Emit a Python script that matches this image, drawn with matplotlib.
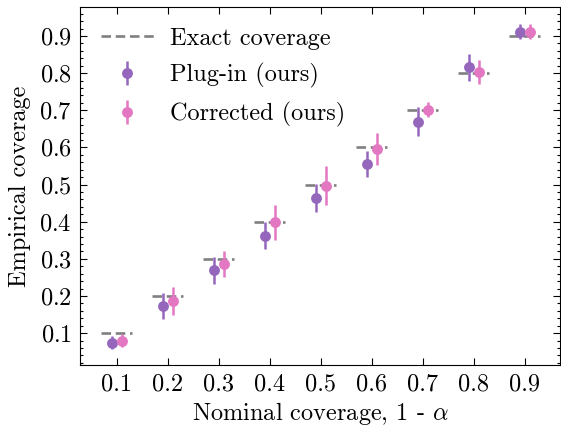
import matplotlib
matplotlib.use("Agg")
import matplotlib.pyplot as plt
import numpy as np
from matplotlib.ticker import MultipleLocator

plt.rcParams['font.family'] = 'serif'
plt.rcParams['font.serif'] = ['cmr10', 'DejaVu Serif']
plt.rcParams['mathtext.fontset'] = 'cm'
plt.rcParams['axes.formatter.use_mathtext'] = True
plt.rcParams['axes.unicode_minus'] = False

nominal = [0.1, 0.2, 0.3, 0.4, 0.5, 0.6, 0.7, 0.8, 0.9]
tick_labels = ["0.1", "0.2", "0.3", "0.4", "0.5", "0.6", "0.7", "0.8", "0.9"]
plugin_mean = [0.074, 0.174, 0.269, 0.362, 0.464, 0.556, 0.669, 0.816, 0.911]
plugin_err = [0.017, 0.035, 0.036, 0.036, 0.038, 0.035, 0.039, 0.036, 0.020]
corrected_mean = [0.080, 0.186, 0.285, 0.399, 0.497, 0.596, 0.701, 0.803, 0.911]
corrected_err = [0.018, 0.038, 0.035, 0.047, 0.053, 0.042, 0.020, 0.033, 0.020]

FS = 17.5

fig = plt.figure(figsize=(5.61, 4.28), dpi=100)
ax = fig.add_axes([0.1426, 0.147, 0.8554, 0.8366])

x = np.arange(len(nominal))
for i, v in enumerate(nominal):
    ax.plot([x[i] - 0.3, x[i] + 0.3], [v, v], ls='--', color='#808080', lw=1.9,
            dashes=(3.6, 1.8), label='Exact coverage' if i == 0 else None, zorder=1)

ax.errorbar(x - 0.1, plugin_mean, yerr=plugin_err, fmt='o', color='#9467bd',
            ms=6.8, elinewidth=1.8, capsize=0, label='Plug-in (ours)', zorder=3)
ax.errorbar(x + 0.1, corrected_mean, yerr=corrected_err, fmt='o', color='#e377c2',
            ms=6.8, elinewidth=1.8, capsize=0, label='Corrected (ours)', zorder=3)

ax.set_xlim(-0.72, 8.69)
ax.set_ylim(0.014, 0.978)
ax.set_xticks(x)
ax.set_xticklabels(tick_labels)
ax.yaxis.set_major_locator(MultipleLocator(0.1))
ax.yaxis.set_minor_locator(MultipleLocator(0.02))
ax.tick_params(which='both', direction='in', top=True, right=True, labelsize=FS)
ax.tick_params(which='major', length=5, width=0.8, pad=6)
ax.tick_params(which='minor', length=2.5, width=0.8)
ax.tick_params(axis='x', which='minor', bottom=False, top=False)
ax.set_xlabel(r'Nominal coverage, 1 - $\alpha$', fontsize=FS, labelpad=3)
ax.set_ylabel('Empirical coverage', fontsize=FS, labelpad=6)
ax.legend(loc='upper left', frameon=False, fontsize=FS, handlelength=2.2,
          handletextpad=0.65, borderaxespad=0.4, labelspacing=0.55, borderpad=0.45)

fig.savefig('out.png', dpi=100)
